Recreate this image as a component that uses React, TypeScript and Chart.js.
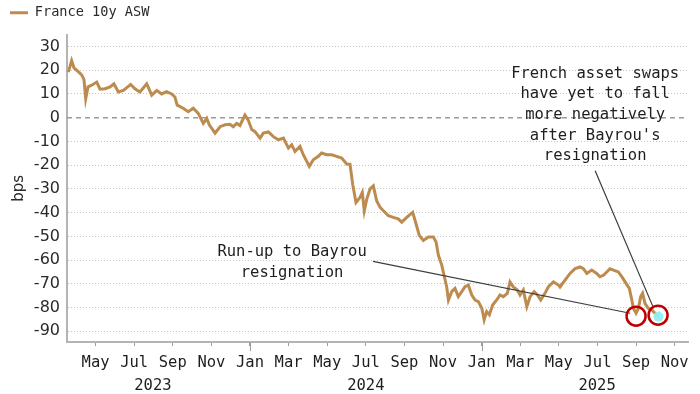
import React, { useEffect, useRef } from 'react';
import { Chart, registerables } from 'chart.js';
Chart.register(...registerables);

// x: months since 1 Jan 2023 (fractional), y: bps
const monthPos = [
  2.59, 2.76, 2.88, 3.09, 3.28, 3.40, 3.49, 3.61, 3.80, 4.06, 4.23, 4.49, 4.75, 4.95, 5.18, 5.44,
  5.82, 6.04, 6.30, 6.65, 6.91, 7.17, 7.42, 7.68, 7.94, 8.11, 8.23, 8.54, 8.80, 9.06, 9.32, 9.58,
  9.76, 9.89, 10.19, 10.45, 10.71, 10.96, 11.13, 11.31, 11.48, 11.74, 11.91, 12.09, 12.26, 12.52,
  12.69, 12.95, 13.21, 13.47, 13.73, 13.99, 14.16, 14.33, 14.59, 14.76, 14.94, 15.07, 15.28, 15.54,
  15.71, 15.97, 16.23, 16.49, 16.75, 17.01, 17.18, 17.32, 17.49, 17.70, 17.82, 17.92, 18.05, 18.22,
  18.39, 18.56, 18.74, 18.91, 19.17, 19.42, 19.68, 19.86, 20.12, 20.43, 20.60, 20.77, 20.98, 21.24,
  21.50, 21.64, 21.76, 21.93, 22.07, 22.19, 22.28, 22.45, 22.62, 22.79, 22.97, 23.14, 23.31, 23.49,
  23.66, 23.83, 24.01, 24.13, 24.26, 24.40, 24.57, 24.78, 24.95, 25.12, 25.33, 25.47, 25.64, 25.85,
  25.99, 26.16, 26.34, 26.51, 26.72, 26.89, 27.06, 27.28, 27.46, 27.72, 27.98, 28.06, 28.32, 28.58,
  28.84, 29.10, 29.27, 29.45, 29.70, 29.96, 30.13, 30.31, 30.48, 30.65, 30.86, 31.08, 31.26, 31.48,
  31.65, 31.78, 31.86, 32.00, 32.12, 32.24, 32.34, 32.46, 32.63, 32.81, 32.98, 33.16,
];
const aswValues = [
  19.2, 24, 21, 19.5, 18, 16, 8, 13, 13.7, 15, 12, 12.2, 13, 14.3, 10.8, 11.5,
  14, 12.2, 10.8, 14.3, 9.5, 11.5, 10, 11, 10, 8.7, 5.3, 4, 2.5, 4, 1.8, -2.4,
  -0.3, -3, -6.5, -3.8, -3, -2.8, -3.8, -2.4, -3.3, 1.1, -1, -5, -5.9, -8.6,
  -6.5, -6, -8, -9.3, -8.6, -12.8, -11.4, -14.2, -12.1, -15.6, -18.4, -20.5, -17.7, -16.3,
  -14.9, -15.6, -15.6, -16.3, -17, -19.5, -19.6, -28, -35.7, -33.6, -31.5, -39.2, -34.3, -30,
  -28.7, -35, -37.8, -39.2, -41.3, -42, -42.6, -44, -42, -39.9, -44.7, -49.6, -51.7, -50.3,
  -50.3, -52.4, -58, -62, -67, -71.3, -76.8, -73.3, -71.9, -75.4, -73.3, -71.2, -70.5, -74.7,
  -76.8, -77.5, -80.3, -85.2, -81.7, -83, -78.9, -76.8, -74.7, -75.4, -74, -69.2, -71.3, -72.6,
  -74.7, -72.6, -79.6, -75.4, -73.3, -74.7, -76.8, -74, -71.2, -69.2, -70.5, -71.3, -68.4, -65.6,
  -63.6, -62.9, -63.6, -65.6, -64.2, -65.6, -67, -66.4, -65, -63.6, -64.3, -65, -67, -69.8,
  -71.9, -76.8, -80.3, -82.4, -80.3, -75.4, -74, -78.2, -80.3, -80.9, -82.4, -83.8,
];

const seriesName = 'France 10y ASW';
const monthTicks = [4, 6, 8, 10, 12, 14, 16, 18, 20, 22, 24, 26, 28, 30, 32, 34];
const monthNames = ['Jan', 'Feb', 'Mar', 'Apr', 'May', 'Jun', 'Jul', 'Aug', 'Sep', 'Oct', 'Nov', 'Dec'];
const yTickValues = [-90, -80, -70, -60, -50, -40, -30, -20, -10, 0, 10, 20, 30];
const yearLabels = ['2023', '2024', '2025'];
const yearLabelAt = [6.97, 18, 29.98];
const yearStarts = [12, 24];

const runUpNote = ['Run-up to Bayrou', 'resignation'];
const frenchNote = ['French asset swaps', 'have yet to fall', 'more negatively', "after Bayrou's", 'resignation'];

const X_MIN = 2.52;
const X_MAX = 34.69;
const Y_MIN = -94.5;
const Y_MAX = 35;

const LINE_COLOR = '#BD8B4E';
const MONO = '"DejaVu Sans Mono", monospace';
const SANS = '"DejaVu Sans", sans-serif';

const legendGapPlugin = {
  id: 'legendGap',
  beforeInit(chart: any) {
    const legend = chart.legend;
    if (!legend) return;
    const origFit = legend.fit;
    legend.fit = function () {
      origFit.call(this);
      this.height += 5;
    };
  },
};

const overlayPlugin = {
  id: 'overlay',
  beforeDatasetsDraw(chart: any) {
    const { ctx, chartArea } = chart;
    const y = chart.scales.y;
    const py = y.getPixelForValue(0);
    ctx.save();
    ctx.strokeStyle = '#9a9a9a';
    ctx.lineWidth = 1.5;
    ctx.setLineDash([5, 4]);
    ctx.beginPath();
    ctx.moveTo(chartArea.left, py);
    ctx.lineTo(chartArea.right, py);
    ctx.stroke();
    ctx.restore();
  },
  afterDatasetsDraw(chart: any) {
    const { ctx, chartArea } = chart;
    const xs = chart.scales.x;
    const ys = chart.scales.y;
    const X = (v: number) => xs.getPixelForValue(v);
    const Y = (v: number) => ys.getPixelForValue(v);
    ctx.save();
    // leader lines
    ctx.strokeStyle = '#3c3c3c';
    ctx.lineWidth = 1.2;
    ctx.beginPath();
    ctx.moveTo(X(18.37), Y(-60.5));
    ctx.lineTo(X(31.69), Y(-82.4));
    ctx.moveTo(X(29.88), Y(-22.4));
    ctx.lineTo(X(32.88), Y(-79.7));
    ctx.stroke();
    // last value marker
    const meta = chart.getDatasetMeta(0);
    const last = meta.data[meta.data.length - 1];
    ctx.fillStyle = 'rgba(150,238,240,0.95)';
    ctx.beginPath();
    ctx.arc(last.x, last.y, 5, 0, Math.PI * 2);
    ctx.fill();
    // red circles
    ctx.strokeStyle = '#C00000';
    ctx.lineWidth = 2.5;
    [[32.0, -83.6], [33.14, -83.2]].forEach(([mx, my]) => {
      ctx.beginPath();
      ctx.arc(X(mx), Y(my), 9.5, 0, Math.PI * 2);
      ctx.stroke();
    });
    // notes
    ctx.fillStyle = '#1e1e1e';
    ctx.font = `15.5px ${MONO}`;
    ctx.textAlign = 'center';
    ctx.textBaseline = 'middle';
    runUpNote.forEach((t, i) => ctx.fillText(t, X(14.18), Y(-56.7) + i * 20.5));
    frenchNote.forEach((t, i) => ctx.fillText(t, X(29.88), Y(18.6) + i * 20.7));
    // year labels and year-boundary ticks
    ctx.fillStyle = '#1e1e1e';
    yearLabels.forEach((t, i) => ctx.fillText(t, X(yearLabelAt[i]), chartArea.bottom + 44));
    ctx.strokeStyle = '#9a9a9a';
    ctx.lineWidth = 1;
    yearStarts.forEach((m) => {
      const px = Math.round(X(m)) + 0.5;
      ctx.beginPath();
      ctx.moveTo(px, chartArea.bottom);
      ctx.lineTo(px, chartArea.bottom + 9);
      ctx.stroke();
    });
    ctx.restore();
  },
};

export default function App() {
  const ref = useRef<HTMLCanvasElement>(null);
  useEffect(() => {
    document.body.style.margin = '0';
    const canvas = ref.current;
    if (!canvas) return;
    const chart = new Chart(canvas, {
      type: 'line',
      data: {
        datasets: [
          {
            label: seriesName,
            data: monthPos.map((m, i) => ({ x: m, y: aswValues[i] })),
            borderColor: LINE_COLOR,
            backgroundColor: LINE_COLOR,
            borderWidth: 3,
            pointRadius: 0,
            tension: 0,
          },
        ],
      },
      options: {
        animation: false,
        responsive: false,
        maintainAspectRatio: false,
        layout: { padding: { left: 6, right: 12, top: 2, bottom: 0 } },
        plugins: {
          legend: {
            display: true,
            position: 'top',
            align: 'start',
            labels: {
              boxWidth: 18,
              boxHeight: 3,
              padding: 4,
              color: '#2a2a2a',
              font: { family: MONO, size: 13.6 },
              generateLabels: (chart: any) =>
                chart.data.datasets.map((d: any, i: number) => ({
                  text: d.label,
                  fillStyle: LINE_COLOR,
                  strokeStyle: LINE_COLOR,
                  lineWidth: 0,
                  datasetIndex: i,
                  hidden: false,
                  fontColor: '#2a2a2a',
                })),
            },
          },
          tooltip: { enabled: false },
        },
        scales: {
          x: {
            type: 'linear',
            min: X_MIN,
            max: X_MAX,
            afterBuildTicks: (scale: any) => {
              scale.ticks = monthTicks.map((v) => ({ value: v }));
            },
            afterFit: (scale: any) => {
              scale.height = 52;
            },
            ticks: {
              autoSkip: false,
              maxRotation: 0,
              padding: 8,
              color: '#1e1e1e',
              font: { family: MONO, size: 15.5 },
              callback: (v: any) => monthNames[Math.round(Number(v)) % 12],
            },
            grid: {
              drawOnChartArea: false,
              drawTicks: true,
              tickLength: 4,
              tickColor: '#9a9a9a',
            },
            border: { display: true, color: '#b4b4b4', width: 2 },
          },
          y: {
            type: 'linear',
            min: Y_MIN,
            max: Y_MAX,
            afterBuildTicks: (scale: any) => {
              scale.ticks = yTickValues.map((v) => ({ value: v }));
            },
            afterFit: (scale: any) => {
              scale.width = 61;
            },
            ticks: {
              padding: 7,
              color: '#2a2a2a',
              font: { family: SANS, size: 16 },
              callback: (v: any) => String(v),
            },
            grid: {
              drawTicks: false,
              color: (c: any) => (c.tick && c.tick.value === 0 ? 'rgba(0,0,0,0)' : '#c4c4c4'),
              lineWidth: 1,
            },
            border: { display: true, color: '#b4b4b4', width: 2, dash: [1, 2] },
            title: {
              display: true,
              text: 'bps',
              color: '#2a2a2a',
              font: { family: SANS, size: 15 },
              padding: { top: 4, bottom: 0 },
            },
          },
        },
      },
      plugins: [legendGapPlugin, overlayPlugin],
    } as any);
    return () => chart.destroy();
  }, []);
  return (
    <div style={{ width: 700, height: 394, background: '#fff' }}>
      <canvas ref={ref} width={700} height={394} />
    </div>
  );
}
